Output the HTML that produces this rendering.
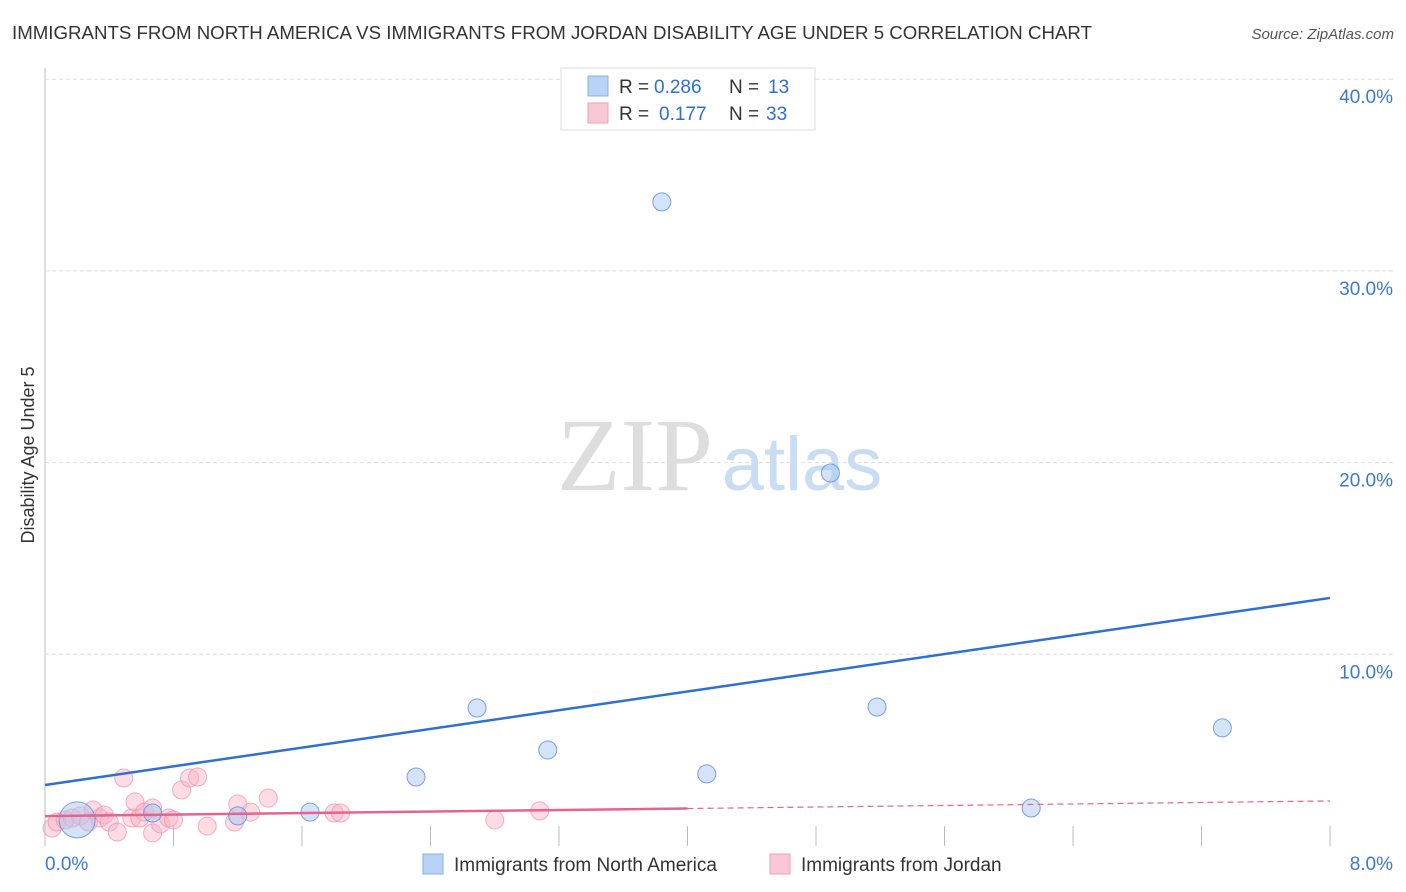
<!DOCTYPE html>
<html><head><meta charset="utf-8"><style>
body{margin:0;background:#fff;font-family:"Liberation Sans",sans-serif;}
svg{display:block}
</style></head><body>
<svg id="chart" width="1406" height="892">
<text x="12" y="39" font-size="18" fill="#333" textLength="1080" lengthAdjust="spacingAndGlyphs">IMMIGRANTS FROM NORTH AMERICA VS IMMIGRANTS FROM JORDAN DISABILITY AGE UNDER 5 CORRELATION CHART</text>
<text x="1394" y="39" font-size="15" fill="#555" font-style="italic" text-anchor="end">Source: ZipAtlas.com</text>
<text x="34" y="455" font-size="18" fill="#333" text-anchor="middle" transform="rotate(-90 34 455)">Disability Age Under 5</text>
<g><text x="635" y="490" font-size="104" fill="#ddd" font-family="Liberation Serif,serif" text-anchor="middle">ZIP</text><text x="802" y="490" font-size="76" fill="#c8dcf2" text-anchor="middle">atlas</text></g>
<g id="grid"></g><g id="marks"></g>
<g>
<rect x="561" y="68" width="254" height="62" fill="#fff" stroke="#ddd"/>
<rect x="588" y="76" width="20" height="20" fill="#b7d3f5" stroke="#8ab0e0"/>
<text x="619" y="93" font-size="19" fill="#333">R =</text>
<text x="654" y="93" font-size="19" fill="#2d6fd6">0.286</text>
<text x="729" y="93" font-size="19" fill="#333">N =</text>
<text x="768" y="93" font-size="19" fill="#2d6fd6">13</text>
<rect x="588" y="103" width="20" height="20" fill="#f9c7d6" stroke="#f0a0b8"/>
<text x="619" y="120" font-size="19" fill="#333">R =</text>
<text x="659" y="120" font-size="19" fill="#2d6fd6">0.177</text>
<text x="729" y="120" font-size="19" fill="#333">N =</text>
<text x="766" y="120" font-size="19" fill="#2d6fd6">33</text>
</g>
<g>
<rect x="423" y="854" width="20" height="20" fill="#b7d3f5" stroke="#8ab0e0"/>
<text x="454" y="871" font-size="19" fill="#333">Immigrants from North America</text>
<rect x="770" y="854" width="20" height="20" fill="#f9c7d6" stroke="#f0a0b8"/>
<text x="801" y="871" font-size="19" fill="#333">Immigrants from Jordan</text>
</g>
</svg>
<script>
const blueX=[0.20,0.67,1.20,1.65,2.31,2.69,3.13,3.84,4.12,4.89,5.18,6.14,7.33];
const blueY=[1.36,1.72,1.57,1.77,3.60,7.20,5.01,33.6,3.76,19.46,7.25,1.98,6.16];
const pinkX=[0.044,0.075,0.125,0.17,0.22,0.27,0.30,0.34,0.37,0.40,0.45,0.49,0.54,0.56,0.59,0.62,0.67,0.67,0.72,0.77,0.80,0.85,0.90,0.95,1.01,1.18,1.20,1.28,1.39,1.80,1.84,2.80,3.08];
const pinkY=[0.94,1.25,1.36,1.46,1.57,1.25,1.88,1.46,1.62,1.25,0.73,3.55,1.46,2.30,1.46,1.77,1.98,0.68,1.15,1.46,1.36,2.92,3.55,3.60,1.04,1.25,2.19,1.77,2.50,1.72,1.72,1.36,1.83];
const blueTrend=[3.18,12.94];
const pinkTrend=[1.56,2.35];
const yTicks=[10,20,30,40];
const xTickLabels=["0.0%","8.0%"];
const NS="http://www.w3.org/2000/svg";
const sx=v=>45+v/8*1285, sy=v=>846-v*19.17;
function mk(t,a,p){const e=document.createElementNS(NS,t);for(const k in a)e.setAttribute(k,a[k]);p.appendChild(e);return e;}
const g=document.getElementById('grid'),m=document.getElementById('marks');
const ax=mk('line',{x1:45,y1:68,x2:45,y2:846,stroke:'#bbb'},g);


yTicks.forEach(t=>{
 const l=mk('line',{x1:45,y1:sy(t),x2:1394,y2:sy(t),stroke:'#ddd','stroke-dasharray':'4 3'},g);
 
 
 const tx=mk('text',{x:1393,y:sy(t)+24,'font-size':19,fill:'#3a78d4','text-anchor':'end'},g);
 tx.textContent=t.toFixed(1)+'%';
 
 
});
for(let i=1;i<=10;i++){const x=sx(i*0.8);
 const l=mk('line',{x1:x,y1:826,x2:x,y2:846,stroke:'#bbb'},g);
 
 }
const xl0=mk('text',{x:45,y:870,'font-size':19,fill:'#3a78d4'},g);xl0.textContent=xTickLabels[0];


const xl1=mk('text',{x:1393,y:870,'font-size':19,fill:'#3a78d4','text-anchor':'end'},g);xl1.textContent=xTickLabels[1];


pinkX.forEach((x,i)=>{const c=mk('circle',{cx:sx(x),cy:sy(pinkY[i]),r:9,fill:'rgba(248,180,200,0.45)',stroke:'rgba(238,140,170,0.7)'},m);
 
 });
blueX.forEach((x,i)=>{const c=mk('circle',{cx:sx(x),cy:sy(blueY[i]),r:i===0?18:9,fill:'rgba(170,200,240,0.5)',stroke:'rgba(90,140,220,0.8)'},m);
 
 });
const bl=mk('line',{x1:sx(0),y1:sy(blueTrend[0]),x2:sx(8),y2:sy(blueTrend[1]),stroke:'#2e6fd6','stroke-width':2.5},m);


const pm=pinkTrend[0]+(pinkTrend[1]-pinkTrend[0])*0.5;
const pl=mk('line',{x1:sx(0),y1:sy(pinkTrend[0]),x2:sx(4),y2:sy(pm),stroke:'#e8628e','stroke-width':2.5},m);


const pd=mk('line',{x1:sx(4),y1:sy(pm),x2:sx(8),y2:sy(pinkTrend[1]),stroke:'#e8628e','stroke-width':1.2,'stroke-dasharray':'6 4'},m);


</script>
</body></html>
